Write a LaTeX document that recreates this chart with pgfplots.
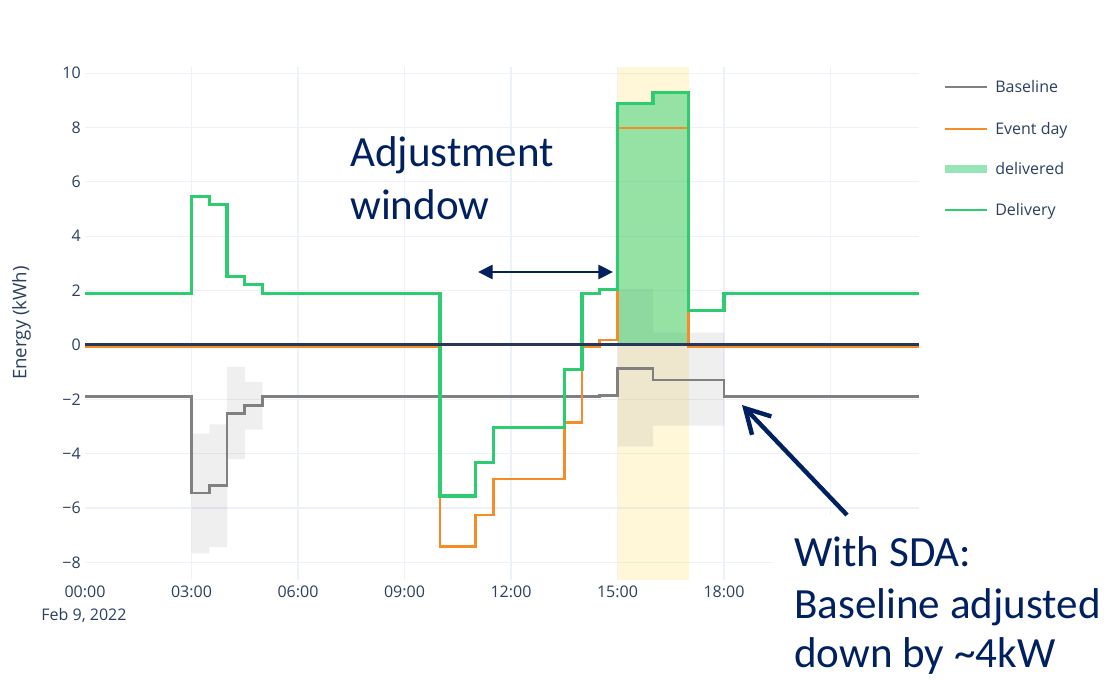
\documentclass[border=0pt]{standalone}
\usepackage{pgfplots}
\pgfplotsset{compat=1.18}
\usepackage{fontspec}
\setmainfont{Open Sans}
\newfontfamily\calfont{Carlito}
\usetikzlibrary{arrows.meta}

\definecolor{tickc}{RGB}{42,63,95}
\definecolor{gridc}{RGB}{237,241,248}
\definecolor{basec}{RGB}{128,128,128}
\definecolor{eventc}{RGB}{245,140,40}
\definecolor{delc}{RGB}{46,204,113}
\definecolor{bandy}{RGB}{255,215,60}
\definecolor{navy}{RGB}{0,32,96}
\definecolor{zeroc}{RGB}{38,55,88}

\begin{document}
\begin{tikzpicture}
\path[use as bounding box] (0,0) rectangle (831.75pt,509.25pt);
\begin{axis}[
  at={(63.75pt,74.25pt)}, anchor=south west,
  scale only axis, width=625.69pt, height=385pt,
  xmin=0, xmax=23.5, ymin=-8.65, ymax=10.24,
  xtick={3,6,...,21},
  xticklabels={03:00,06:00,09:00,12:00,15:00,18:00,{}},
  extra x ticks={0}, extra x tick labels={00:00},
  extra x tick style={grid=none},
  ytick={-8,-6,...,10},
  yticklabels={−8,−6,−4,−2,0,2,4,6,8,10},
  grid=major, grid style={gridc, line width=0.9pt},
  axis line style={draw=none}, tick style={draw=none},
  ticklabel style={font=\fontsize{12}{14}\selectfont, text=tickc},
  xticklabel style={inner sep=0pt, yshift=-4.5pt},
  yticklabel style={inner sep=0pt, xshift=-3pt},
]
% adjustment event window
\addplot[draw=none, fill=bandy, fill opacity=0.2]
  coordinates {(15,-8.65)(17,-8.65)(17,10.24)(15,10.24)} -- cycle;
% baseline uncertainty
\addplot[draw=none, fill=basec, fill opacity=0.13]
  coordinates {(3,-3.26)(3.5,-3.26)(3.5,-2.92)(4,-2.92)(4,-0.81)(4.5,-0.81)(4.5,-1.36)(5,-1.36)
               (5,-3.12)(4.5,-3.12)(4.5,-4.2)(4,-4.2)(4,-7.44)(3.5,-7.44)(3.5,-7.67)(3,-7.67)} -- cycle;
\addplot[draw=none, fill=basec, fill opacity=0.13]
  coordinates {(15,2.05)(16,2.05)(16,0.45)(18,0.45)
               (18,-2.97)(16,-2.97)(16,-3.74)(15,-3.74)} -- cycle;
% delivered
\addplot[draw=none, fill=delc, fill opacity=0.5]
  coordinates {(15,0)(15,8.87)(16,8.87)(16,9.3)(17,9.3)(17,0)} -- cycle;
% Baseline
\addplot[const plot, basec, line width=2pt]
  coordinates {(0,-1.9)(3,-5.45)(3.5,-5.17)(4,-2.52)(4.5,-2.22)(5,-1.9)(14.5,-1.86)
               (15,-0.87)(16,-1.29)(18,-1.9)(23.5,-1.9)};
% Event day
\addplot[const plot, eventc, line width=1.9pt]
  coordinates {(0,-0.07)(10,-7.42)(11,-6.26)(11.5,-4.93)(13.5,-2.85)(14,-0.07)
               (14.5,0.18)(15,7.98)(17,-0.07)(23.5,-0.07)};
% Delivery
\addplot[const plot, delc, line width=2.3pt]
  coordinates {(0,1.88)(3,5.45)(3.5,5.16)(4,2.51)(4.5,2.23)(5,1.9)(5.5,1.88)(10,-5.56)
               (11,-4.32)(11.5,-3.04)(13.5,-0.92)(14,1.9)(14.5,2.05)(15,8.87)(16,9.3)
               (17,1.28)(18,1.88)(23.5,1.88)};
% zero line
\addplot[zeroc, line width=2.4pt] coordinates {(0,0.02)(23.5,0.02)};
\end{axis}

\begin{scope}[x=0.75pt, y=-0.75pt, yshift=509.25pt]
\node[rotate=90, text=tickc, font=\fontsize{14}{16}\selectfont] at (21.5,323) {Energy (kWh)};
\node[text=tickc, font=\fontsize{12}{14}\selectfont] at (84,615) {Feb 9, 2022};

% legend
\draw[basec, line width=2pt] (945,87) -- (987,87);
\draw[eventc, line width=1.9pt] (945,129) -- (987,129);
\fill[delc, fill opacity=0.5] (945,165) rectangle (987,173);
\draw[delc, line width=2.2pt] (945,210) -- (987,210);
\begin{scope}[every node/.style={anchor=base west, inner sep=0pt, text=tickc,
    font=\fontsize{12}{14}\selectfont}]
\node at (995,93) {Baseline};
\node at (995,135) {Event day};
\node at (995,175) {delivered};
\node at (995,216) {Delivery};
\end{scope}

% callouts
\fill[white] (773,515) rectangle (1109,679);
\draw[navy, line width=3.3pt, -{Straight Barb[length=18pt,width=20pt]}] (847,515) -- (742,405);
\draw[navy, line width=2.2pt, {Triangle[length=11pt,width=10.5pt]}-{Triangle[length=11pt,width=10.5pt]}]
  (478,272) -- (613,272);
\begin{scope}[every node/.style={anchor=base west, inner sep=0pt, text=navy,
    font=\calfont\fontsize{32.3}{38}\selectfont}]
\node at (350,167) {Adjustment};
\node at (350,220) {window};
\node at (794,566) {With SDA:};
\node at (794,618) {Baseline adjusted};
\node at (794,667) {down by \textasciitilde4kW};
\end{scope}
\end{scope}
\end{tikzpicture}
\end{document}
